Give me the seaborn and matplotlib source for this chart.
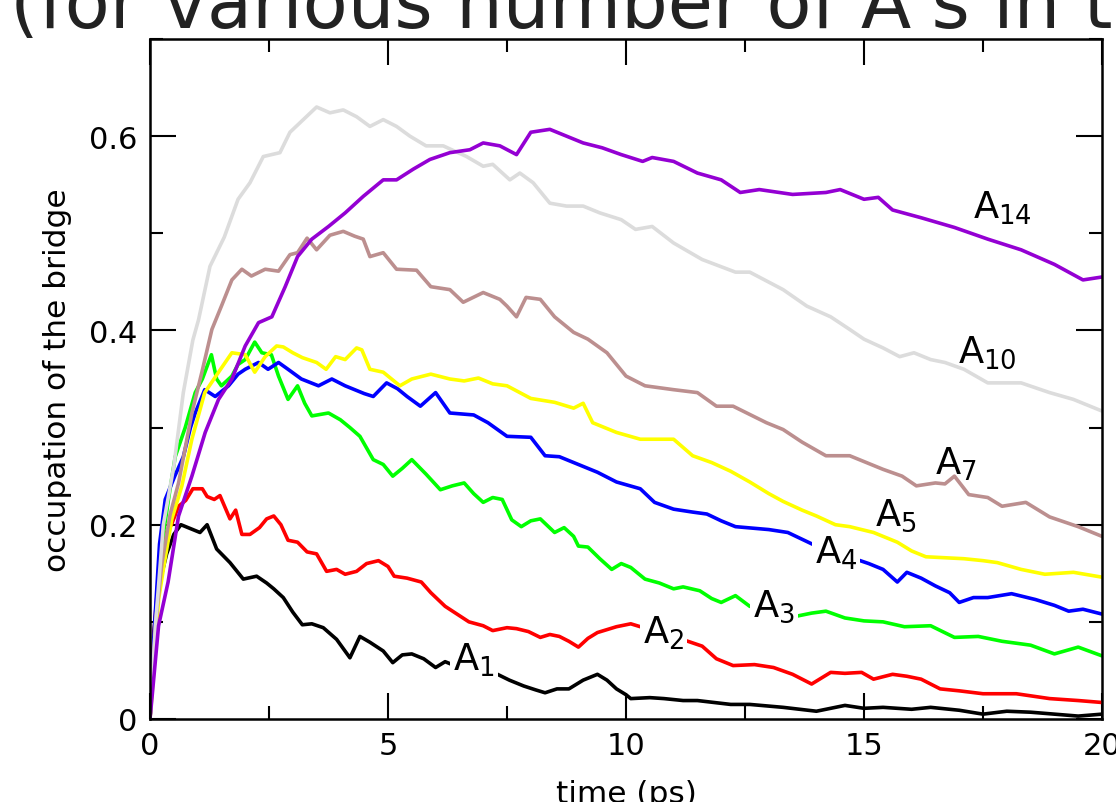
import matplotlib
matplotlib.use("Agg")
import matplotlib.pyplot as plt
from matplotlib.ticker import MultipleLocator, FuncFormatter
import seaborn as sns
import pandas as pd

# Bridge occupation vs. time for chains with n = 1 ... 14 A's: (time in ps, occupation)
A1_points = [
    (0, 0), (0.08, 0.09), (0.2, 0.14), (0.35, 0.17), (0.5, 0.19), (0.65, 0.2), (0.8, 0.197),
    (1.05, 0.192), (1.2, 0.2), (1.4, 0.175), (1.68, 0.161), (1.96, 0.144), (2.24, 0.147),
    (2.45, 0.14), (2.6, 0.134), (2.8, 0.125), (3.0, 0.11), (3.2, 0.097), (3.4, 0.098),
    (3.64, 0.094), (3.92, 0.082), (4.2, 0.063), (4.41, 0.085), (4.62, 0.079), (4.9, 0.07),
    (5.1, 0.058), (5.3, 0.066), (5.5, 0.067), (5.75, 0.062), (6.0, 0.053), (6.2, 0.059),
    (6.35, 0.056), (6.7, 0.052), (7.1, 0.05), (7.3, 0.046), (7.55, 0.04), (7.85, 0.034),
    (8.1, 0.03), (8.3, 0.027), (8.55, 0.031), (8.8, 0.031), (9.1, 0.04), (9.4, 0.046),
    (9.6, 0.04), (9.8, 0.031), (10.0, 0.025), (10.1, 0.021), (10.5, 0.022), (10.8, 0.021),
    (11.2, 0.019), (11.5, 0.019), (12.2, 0.015), (12.6, 0.015), (13.3, 0.012), (14.0, 0.008),
    (14.6, 0.014), (15.0, 0.011), (15.4, 0.012), (16.0, 0.01), (16.4, 0.012), (17.0, 0.009),
    (17.5, 0.005), (18.0, 0.008), (18.5, 0.007), (19.0, 0.005), (19.5, 0.003), (20.0, 0.005),
]
A2_points = [
    (0, 0), (0.1, 0.1), (0.2, 0.16), (0.32, 0.19), (0.45, 0.2), (0.6, 0.219), (0.75, 0.225),
    (0.9, 0.237), (1.1, 0.237), (1.2, 0.229), (1.35, 0.226), (1.47, 0.23), (1.68, 0.206),
    (1.8, 0.215), (1.93, 0.19), (2.1, 0.19), (2.3, 0.197), (2.45, 0.206), (2.6, 0.209),
    (2.75, 0.2), (2.9, 0.184), (3.1, 0.182), (3.3, 0.172), (3.5, 0.17), (3.71, 0.152),
    (3.92, 0.154), (4.1, 0.149), (4.34, 0.152), (4.55, 0.16), (4.8, 0.163), (5.0, 0.157),
    (5.13, 0.147), (5.4, 0.145), (5.7, 0.141), (5.9, 0.13), (6.2, 0.116), (6.45, 0.108),
    (6.7, 0.1), (7.0, 0.096), (7.2, 0.091), (7.5, 0.094), (7.7, 0.093), (7.95, 0.09),
    (8.2, 0.084), (8.4, 0.087), (8.6, 0.085), (8.8, 0.08), (9.0, 0.074), (9.2, 0.083),
    (9.4, 0.089), (9.6, 0.092), (9.8, 0.095), (10.1, 0.098), (10.3, 0.095), (10.8, 0.087),
    (11.3, 0.08), (11.6, 0.075), (11.9, 0.062), (12.25, 0.055), (12.7, 0.056), (13.1, 0.053),
    (13.5, 0.046), (13.9, 0.036), (14.3, 0.048), (14.6, 0.047), (14.95, 0.048), (15.2, 0.041),
    (15.6, 0.046), (15.9, 0.044), (16.2, 0.041), (16.6, 0.031), (17.0, 0.029), (17.5, 0.026),
    (18.2, 0.026), (18.9, 0.021), (19.5, 0.019), (20.0, 0.017),
]
A3_points = [
    (0, 0), (0.1, 0.09), (0.25, 0.18), (0.4, 0.23), (0.53, 0.27), (0.74, 0.3), (0.95, 0.336),
    (1.1, 0.35), (1.29, 0.375), (1.4, 0.35), (1.5, 0.343), (1.72, 0.353), (1.85, 0.365),
    (2.0, 0.37), (2.2, 0.388), (2.35, 0.377), (2.55, 0.375), (2.7, 0.353), (2.9, 0.329),
    (3.1, 0.343), (3.25, 0.325), (3.4, 0.312), (3.75, 0.315), (4.0, 0.308), (4.2, 0.3),
    (4.41, 0.291), (4.69, 0.267), (4.9, 0.262), (5.1, 0.25), (5.3, 0.258), (5.5, 0.267),
    (5.8, 0.252), (6.1, 0.236), (6.35, 0.24), (6.6, 0.243), (6.8, 0.232), (7.0, 0.223),
    (7.2, 0.228), (7.4, 0.226), (7.6, 0.205), (7.8, 0.198), (8.0, 0.204), (8.2, 0.206),
    (8.5, 0.192), (8.7, 0.197), (8.9, 0.188), (9.0, 0.178), (9.2, 0.177), (9.45, 0.165),
    (9.7, 0.154), (9.9, 0.16), (10.1, 0.156), (10.4, 0.144), (10.7, 0.14), (11.0, 0.134),
    (11.2, 0.136), (11.55, 0.132), (11.8, 0.124), (12.0, 0.12), (12.3, 0.127), (12.6, 0.116),
    (13.0, 0.112), (13.6, 0.106), (13.9, 0.109), (14.2, 0.111), (14.6, 0.104), (15.0, 0.101),
    (15.4, 0.1), (15.85, 0.095), (16.4, 0.096), (16.9, 0.084), (17.4, 0.085), (17.9, 0.08),
    (18.5, 0.076), (19.0, 0.067), (19.5, 0.074), (20.0, 0.065),
]
A4_points = [
    (0, 0), (0.1, 0.1), (0.2, 0.18), (0.32, 0.226), (0.52, 0.25), (0.7, 0.27), (0.85, 0.3),
    (0.95, 0.315), (1.15, 0.339), (1.37, 0.332), (1.65, 0.343), (1.85, 0.355), (2.0, 0.36),
    (2.28, 0.367), (2.48, 0.36), (2.7, 0.367), (2.9, 0.36), (3.18, 0.35), (3.54, 0.343),
    (3.82, 0.35), (4.1, 0.343), (4.5, 0.335), (4.69, 0.332), (4.97, 0.346), (5.2, 0.34),
    (5.4, 0.332), (5.68, 0.322), (6.0, 0.336), (6.3, 0.315), (6.8, 0.313), (7.1, 0.305),
    (7.5, 0.291), (8.0, 0.29), (8.3, 0.271), (8.6, 0.27), (8.9, 0.264), (9.4, 0.254),
    (9.8, 0.244), (10.3, 0.237), (10.6, 0.223), (11.0, 0.216), (11.4, 0.213), (11.7, 0.211),
    (12.0, 0.204), (12.3, 0.198), (13.0, 0.195), (13.4, 0.192), (13.7, 0.185), (14.0, 0.178),
    (14.4, 0.172), (14.8, 0.165), (15.1, 0.16), (15.4, 0.154), (15.7, 0.141), (15.9, 0.151),
    (16.2, 0.145), (16.5, 0.137), (16.8, 0.13), (17.0, 0.12), (17.3, 0.125), (17.6, 0.125),
    (18.1, 0.129), (18.6, 0.123), (19.0, 0.117), (19.3, 0.111), (19.6, 0.113), (20.0, 0.108),
]
A5_points = [
    (0, 0), (0.08, 0.05), (0.18, 0.123), (0.3, 0.16), (0.46, 0.206), (0.67, 0.24),
    (0.88, 0.288), (1.15, 0.336), (1.44, 0.357), (1.72, 0.377), (2.0, 0.375), (2.2, 0.357),
    (2.42, 0.373), (2.66, 0.384), (2.8, 0.383), (3.0, 0.377), (3.2, 0.372), (3.5, 0.367),
    (3.7, 0.36), (3.9, 0.373), (4.1, 0.37), (4.34, 0.382), (4.45, 0.38), (4.62, 0.36),
    (4.9, 0.357), (5.25, 0.343), (5.5, 0.35), (5.9, 0.355), (6.3, 0.35), (6.6, 0.348),
    (6.9, 0.351), (7.2, 0.345), (7.5, 0.343), (8.0, 0.33), (8.5, 0.326), (8.9, 0.32),
    (9.1, 0.325), (9.3, 0.305), (9.8, 0.295), (10.3, 0.288), (11.0, 0.288), (11.4, 0.271),
    (11.8, 0.264), (12.2, 0.255), (12.6, 0.244), (13.0, 0.232), (13.3, 0.224), (13.7, 0.215),
    (14.0, 0.209), (14.4, 0.2), (14.7, 0.198), (15.2, 0.192), (15.7, 0.182), (16.0, 0.173),
    (16.3, 0.167), (16.7, 0.166), (17.1, 0.165), (17.5, 0.163), (17.8, 0.161), (18.3, 0.154),
    (18.8, 0.149), (19.4, 0.151), (20.0, 0.146),
]
A7_points = [
    (0, 0), (0.12, 0.1), (0.25, 0.16), (0.42, 0.21), (0.6, 0.243), (0.88, 0.315),
    (1.09, 0.357), (1.3, 0.401), (1.5, 0.425), (1.72, 0.452), (1.93, 0.463), (2.13, 0.456),
    (2.42, 0.463), (2.7, 0.461), (2.94, 0.478), (3.1, 0.48), (3.3, 0.495), (3.5, 0.483),
    (3.78, 0.498), (4.06, 0.502), (4.3, 0.497), (4.48, 0.494), (4.62, 0.476), (4.9, 0.48),
    (5.18, 0.463), (5.6, 0.462), (5.9, 0.445), (6.3, 0.442), (6.58, 0.429), (7.0, 0.439),
    (7.35, 0.432), (7.5, 0.425), (7.7, 0.414), (7.9, 0.434), (8.2, 0.432), (8.5, 0.414),
    (8.9, 0.398), (9.2, 0.391), (9.6, 0.377), (10.0, 0.353), (10.4, 0.343), (11.0, 0.339),
    (11.5, 0.336), (11.9, 0.322), (12.25, 0.322), (12.95, 0.305), (13.3, 0.298), (13.7, 0.285),
    (14.2, 0.271), (14.7, 0.271), (15.0, 0.265), (15.4, 0.257), (15.8, 0.25), (16.1, 0.24),
    (16.5, 0.243), (16.7, 0.242), (16.9, 0.25), (17.2, 0.231), (17.6, 0.228), (17.9, 0.219),
    (18.4, 0.223), (18.9, 0.208), (19.5, 0.198), (20.0, 0.188),
]
A10_points = [
    (0, 0), (0.12, 0.1), (0.28, 0.2), (0.5, 0.26), (0.7, 0.336), (0.9, 0.39), (1.02, 0.411),
    (1.26, 0.466), (1.56, 0.496), (1.85, 0.535), (2.1, 0.552), (2.38, 0.579), (2.73, 0.583),
    (2.94, 0.604), (3.22, 0.617), (3.5, 0.63), (3.78, 0.624), (4.06, 0.627), (4.34, 0.62),
    (4.62, 0.61), (4.9, 0.617), (5.18, 0.61), (5.46, 0.6), (5.8, 0.59), (6.16, 0.59),
    (6.65, 0.579), (7.0, 0.569), (7.2, 0.571), (7.56, 0.555), (7.77, 0.562), (8.05, 0.552),
    (8.4, 0.531), (8.75, 0.528), (9.1, 0.528), (9.45, 0.521), (9.9, 0.514), (10.2, 0.504),
    (10.55, 0.507), (11.0, 0.49), (11.6, 0.473), (12.3, 0.46), (12.6, 0.46), (13.3, 0.442),
    (13.8, 0.425), (14.3, 0.414), (14.7, 0.401), (15.0, 0.391), (15.4, 0.382), (15.75, 0.373),
    (16.05, 0.377), (16.4, 0.37), (16.7, 0.367), (17.1, 0.36), (17.6, 0.346), (18.3, 0.346),
    (18.9, 0.336), (19.4, 0.329), (20.0, 0.317),
]
A14_points = [
    (0, 0), (0.04, 0.021), (0.18, 0.096), (0.38, 0.141), (0.6, 0.209), (0.88, 0.25),
    (1.16, 0.295), (1.44, 0.329), (1.72, 0.35), (2.0, 0.384), (2.28, 0.408), (2.56, 0.414),
    (2.84, 0.445), (3.1, 0.476), (3.4, 0.494), (3.75, 0.507), (4.1, 0.521), (4.48, 0.538),
    (4.9, 0.555), (5.18, 0.555), (5.53, 0.566), (5.88, 0.576), (6.3, 0.583), (6.72, 0.586),
    (7.0, 0.593), (7.35, 0.59), (7.7, 0.581), (8.0, 0.604), (8.4, 0.607), (8.75, 0.6),
    (9.1, 0.593), (9.5, 0.588), (9.9, 0.581), (10.35, 0.574), (10.55, 0.578), (11.0, 0.574),
    (11.5, 0.562), (12.0, 0.555), (12.4, 0.542), (12.8, 0.545), (13.5, 0.54), (14.2, 0.542),
    (14.5, 0.545), (15.0, 0.535), (15.3, 0.537), (15.6, 0.524), (16.2, 0.516), (16.9, 0.506),
    (17.6, 0.494), (18.3, 0.483), (19.0, 0.468), (19.6, 0.452), (20.0, 0.455),
]

series_names = ["1", "2", "3", "4", "5", "7", "10", "14"]
series_points = [A1_points, A2_points, A3_points, A4_points, A5_points,
                 A7_points, A10_points, A14_points]
series_colors = ["#000000", "#ff0000", "#00ff00", "#0000ff", "#ffff00",
                 "#bc8f8f", "#dcdcdc", "#9400d3"]

# inline curve labels: (time, occupation) at the baseline-left of the "A"
label_pos = {
    "1": (6.37, 0.051), "2": (10.36, 0.079), "3": (12.67, 0.106), "4": (13.97, 0.161),
    "5": (15.23, 0.200), "7": (16.49, 0.252), "10": (16.97, 0.368), "14": (17.29, 0.516),
}
masked_labels = {"1", "2", "3", "4"}

x_ticks = [0, 5, 10, 15, 20]
y_ticks = [0, 0.2, 0.4, 0.6]

rows = []
for name, pts in zip(series_names, series_points):
    for t, v in pts:
        rows.append({"time": t, "occupation": v, "series": name})
df = pd.DataFrame(rows)

sns.set_style("ticks")
plt.rcParams["font.family"] = ["DejaVu Sans"]
plt.rcParams["mathtext.default"] = "regular"
plt.rcParams["text.color"] = "black"
plt.rcParams["axes.labelcolor"] = "black"

fig = plt.figure(figsize=(11.16, 8.03), dpi=100)
W, H = 1116, 803
ax = fig.add_axes([150 / W, 1 - 720 / H, (1102 - 150) / W, (720 - 40) / H])

sns.lineplot(data=df, x="time", y="occupation", hue="series",
             hue_order=series_names, palette=dict(zip(series_names, series_colors)),
             estimator=None, sort=False, legend=False, linewidth=2.6, ax=ax)

for name in series_names:
    tx, ty = label_pos[name]
    kw = {}
    if name in masked_labels:
        kw["bbox"] = dict(boxstyle="square,pad=0.08", fc="white", ec="none")
    ax.text(tx, ty, "A$_{%s}$" % name, fontsize=26.5, color="black",
            ha="left", va="baseline", zorder=5, **kw)

ax.set_xlim(0, 20)
ax.set_ylim(0, 0.7)
ax.set_xticks(x_ticks)
ax.set_yticks(y_ticks)
ax.xaxis.set_minor_locator(MultipleLocator(2.5))
ax.yaxis.set_minor_locator(MultipleLocator(0.1))
ax.xaxis.set_major_formatter(FuncFormatter(lambda v, p: "%d" % v))
ax.yaxis.set_major_formatter(FuncFormatter(lambda v, p: "0" if v == 0 else "%.1f" % v))
ax.tick_params(which="both", direction="in", top=True, right=True,
               labelsize=22, pad=9, colors="black")
ax.tick_params(which="major", length=19, width=1.5)
ax.tick_params(which="minor", length=9.5, width=1.5)
for s in ax.spines.values():
    s.set_linewidth(1.8)
    s.set_color("black")

ax.set_xlabel("time (ps)", fontsize=22.5, labelpad=13)
ax.set_ylabel("occupation of the bridge", fontsize=22.5, labelpad=12)

fig.text(10 / W, 1 - 28 / H, "(for various number of A's in the bridge)",
         fontsize=53, ha="left", va="baseline", color="#222222")

fig.savefig("out.png", dpi=100)
